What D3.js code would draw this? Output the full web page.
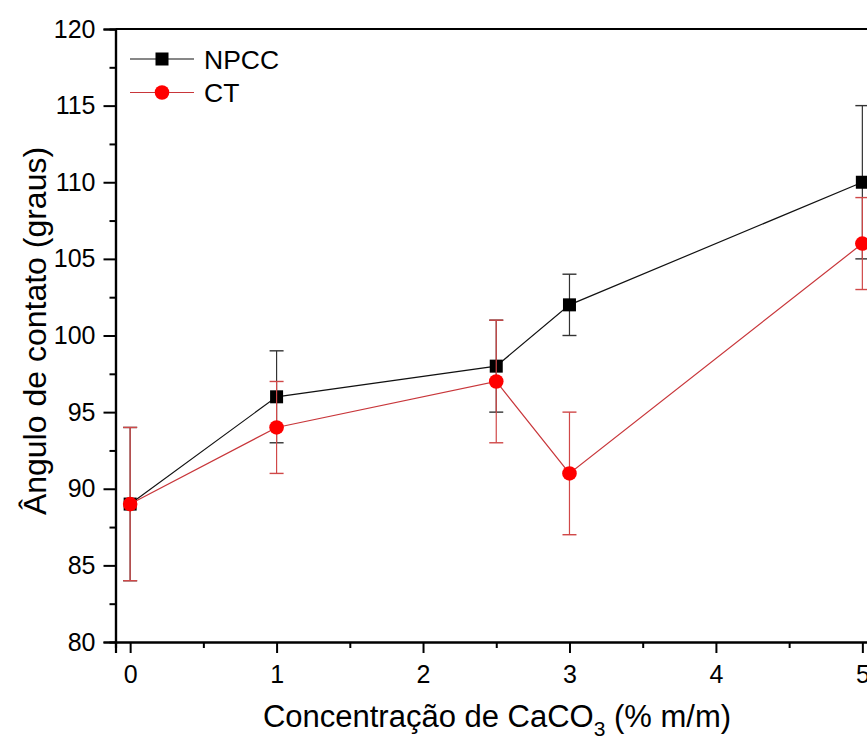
<!DOCTYPE html>
<html>
<head>
<meta charset="utf-8">
<script src="https://cdnjs.cloudflare.com/ajax/libs/d3/7.8.5/d3.min.js"></script>
<style>
  html, body { margin: 0; padding: 0; background: #fff; overflow: hidden; }
  svg { display: block; font-family: "Liberation Sans", Arial, sans-serif; }
</style>
</head>
<body>
<svg id="chart" width="867" height="738"></svg>
<script>
// CaCO3 concentration (% m/m)
const concentration = [0, 1, 2.5, 3, 5];
// Contact angle (degrees) and standard deviation
const npccValues = [89, 96, 98, 102, 110];
const npccErrors = [5, 3, 3, 2, 5];
const ctValues = [89, 94, 97, 91, 106];
const ctErrors = [5, 3, 4, 4, 3];
const xTicks = [0, 1, 2, 3, 4, 5];
const yTicks = [80, 85, 90, 95, 100, 105, 110, 115, 120];

const series = [
  { name: "NPCC", values: npccValues, errors: npccErrors, line: "#111", err: "#333", fill: "#000", shape: "square" },
  { name: "CT", values: ctValues, errors: ctErrors, line: "#c8363a", err: "#d04848", fill: "#ff0000", shape: "circle" }
];

const svg = d3.select("#chart");
const x = d3.scaleLinear().domain([-0.1, 5.1]).range([115.5, 877]);
const y = d3.scaleLinear().domain([80, 120]).range([642, 29]);

// minor ticks
const xMinor = d3.range(0.5, 5, 1);
const yMinor = d3.range(82.5, 120, 5);

const gx = svg.append("g").attr("transform", `translate(0,${y(80)})`);
gx.call(d3.axisBottom(x).tickValues(xTicks).tickSize(11).tickPadding(12).tickFormat(d3.format("d")));
gx.append("g").call(d3.axisBottom(x).tickValues(xMinor).tickSize(6).tickFormat(""));
const gy = svg.append("g").attr("transform", `translate(${x(-0.1)},0)`);
gy.call(d3.axisLeft(y).tickValues(yTicks).tickSize(12).tickPadding(8).tickFormat(d3.format("d")));
gy.append("g").call(d3.axisLeft(y).tickValues(yMinor).tickSize(6).tickFormat(""));

svg.selectAll(".domain").attr("stroke", "#000").attr("stroke-width", 2.2);
svg.selectAll(".tick line").attr("stroke", "#000").attr("stroke-width", 2);
svg.selectAll(".tick text").attr("fill", "#000").style("font-size", "25px");

// top frame line
svg.append("line")
  .attr("x1", x(-0.1)).attr("x2", x(5.1)).attr("y1", y(120)).attr("y2", y(120))
  .attr("stroke", "#000").attr("stroke-width", 2.2);

const line = d3.line().x((d, i) => x(concentration[i])).y(d => y(d));

series.forEach(s => {
  const g = svg.append("g");
  g.append("path").datum(s.values).attr("d", line)
    .attr("fill", "none").attr("stroke", s.line).attr("stroke-width", 1.2);
  const eb = g.selectAll(".eb").data(s.values).enter().append("g");
  eb.append("line")
    .attr("x1", (d, i) => x(concentration[i])).attr("x2", (d, i) => x(concentration[i]))
    .attr("y1", (d, i) => y(d - s.errors[i])).attr("y2", (d, i) => y(d + s.errors[i]))
    .attr("stroke", s.err).attr("stroke-width", 1.2);
  [-1, 1].forEach(sign => {
    eb.append("line")
      .attr("x1", (d, i) => x(concentration[i]) - 7).attr("x2", (d, i) => x(concentration[i]) + 7)
      .attr("y1", (d, i) => y(d + sign * s.errors[i])).attr("y2", (d, i) => y(d + sign * s.errors[i]))
      .attr("stroke", s.err).attr("stroke-width", 1.4);
  });
  const m = g.selectAll(".mk").data(s.values).enter();
  if (s.shape === "square") {
    m.append("rect")
      .attr("x", (d, i) => x(concentration[i]) - 6.5).attr("y", d => y(d) - 6.5)
      .attr("width", 13).attr("height", 13).attr("fill", s.fill);
  } else {
    m.append("circle")
      .attr("cx", (d, i) => x(concentration[i])).attr("cy", d => y(d))
      .attr("r", 7.3).attr("fill", s.fill);
  }
});

// legend
series.forEach((s, k) => {
  const cy = 59 + k * 33.5;
  const lg = svg.append("g");
  lg.append("line").attr("x1", 130).attr("x2", 194).attr("y1", cy).attr("y2", cy)
    .attr("stroke", s.line).attr("stroke-width", 1.2);
  if (s.shape === "square") {
    lg.append("rect").attr("x", 162 - 6.5).attr("y", cy - 6.5).attr("width", 13).attr("height", 13).attr("fill", s.fill);
  } else {
    lg.append("circle").attr("cx", 162).attr("cy", cy).attr("r", 7.3).attr("fill", s.fill);
  }
  lg.append("text").attr("x", 204).attr("y", cy + 9.5).style("font-size", "26.5px").attr("fill", "#000").text(s.name);
});

// axis titles
svg.append("text")
  .attr("transform", `translate(46,331) rotate(-90)`)
  .attr("text-anchor", "middle").style("font-size", "32px").attr("fill", "#000")
  .text("Ângulo de contato (graus)");

const xt = svg.append("text").attr("x", 497).attr("y", 727)
  .attr("text-anchor", "middle").style("font-size", "31px").attr("fill", "#000");
xt.append("tspan").text("Concentração de CaCO");
xt.append("tspan").attr("dy", 9).style("font-size", "21px").text("3");
xt.append("tspan").attr("dy", -9).text(" (% m/m)");
</script>
</body>
</html>
